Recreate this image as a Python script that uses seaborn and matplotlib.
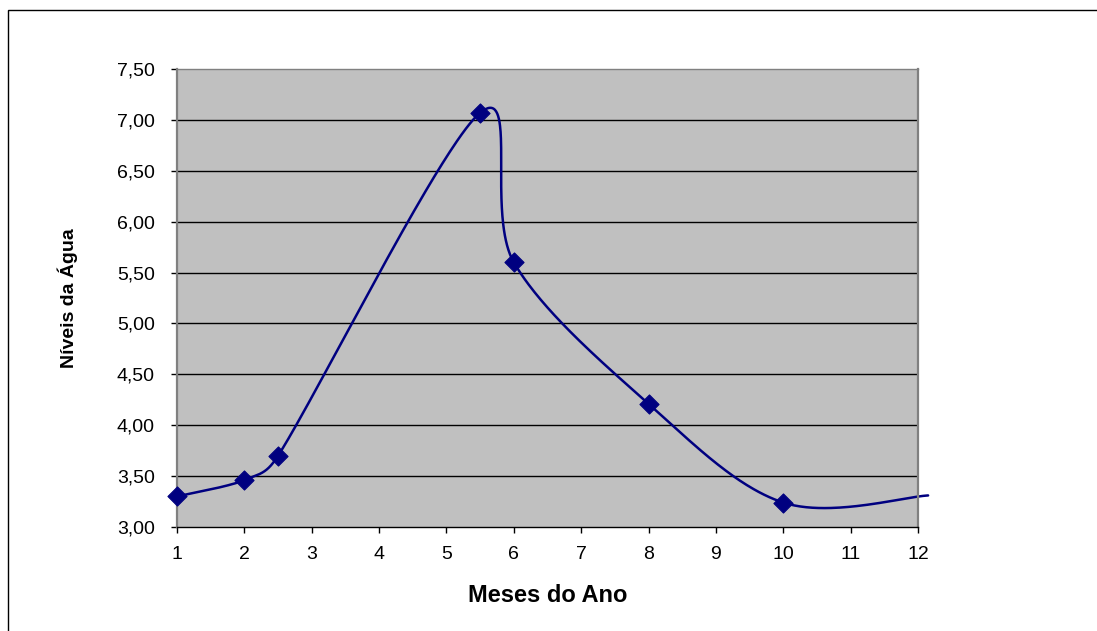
import numpy as np
import pandas as pd
import matplotlib
matplotlib.use("Agg")
import matplotlib.pyplot as plt
from matplotlib.patches import Rectangle
from matplotlib.ticker import FuncFormatter
import seaborn as sns

# Measured water levels by month
meses = [1, 2, 2.5, 5.5, 6, 8, 10]
niveis = [3.30, 3.46, 3.70, 7.07, 5.60, 4.21, 3.24]
# trailing point of the smoothed line (runs just past the last month, no marker)
meses_fim = [12.15]
niveis_fim = [3.31]

x_ticks = list(range(1, 13))
y_ticks = [3.0, 3.5, 4.0, 4.5, 5.0, 5.5, 6.0, 6.5, 7.0, 7.5]

sns.set_theme(style="white")
plt.rcParams["font.family"] = ["Liberation Sans", "DejaVu Sans"]


def smooth_bezier(xs, ys, sx, sy, n=80):
    """Spreadsheet-style smoothed line: cubic Bezier segments whose control
    points follow the neighbouring points (tension 1/6), with the handle
    length capped at half the segment length, measured on screen (sx, sy
    are pixels per data unit)."""
    p = np.column_stack([xs, ys]).astype(float)
    ext = np.vstack([p[0], p, p[-1]])
    scale = np.array([sx, sy])

    def dist(a, b):
        return np.hypot(*((b - a) * scale))

    t = np.linspace(0, 1, n)[:, None]
    out = []
    for i in range(len(p) - 1):
        p0, p1, p2, p3 = ext[i], ext[i + 1], ext[i + 2], ext[i + 3]
        d12 = dist(p1, p2)
        d02 = dist(p0, p2)
        d13 = dist(p1, p3)
        f1 = 1 / 6 if d02 / 6 < d12 / 2 or d02 == 0 else (d12 / 2) / d02
        f2 = 1 / 6 if d13 / 6 < d12 / 2 or d13 == 0 else (d12 / 2) / d13
        c1 = p1 + (p2 - p0) * f1
        c2 = p2 - (p3 - p1) * f2
        seg = ((1 - t) ** 3) * p1 + 3 * ((1 - t) ** 2) * t * c1 + 3 * (1 - t) * t ** 2 * c2 + t ** 3 * p2
        out.append(seg if i == 0 else seg[1:])
    return np.vstack(out)


W, H = 1097, 631
x_lim = (1, 12)
y_lim = (3.0, 7.5)
ax_left, ax_right, ax_top, ax_bottom = 177, 918, 69, 527

fig = plt.figure(figsize=(W / 100, H / 100), dpi=100)
fig.patch.set_facecolor("white")

# outer chart-area frame
fig.patches.append(Rectangle((8 / W, -0.05), 1.2, (H - 10) / H + 0.05,
                             transform=fig.transFigure, fill=False,
                             edgecolor="#000000", linewidth=1.0, zorder=0))

ax = fig.add_axes([ax_left / W, (H - ax_bottom) / H,
                   (ax_right - ax_left) / W, (ax_bottom - ax_top) / H])
ax.set_facecolor("#C0C0C0")

px_x = (ax_right - ax_left) / (x_lim[1] - x_lim[0])
px_y = (ax_bottom - ax_top) / (y_lim[1] - y_lim[0])
curve = smooth_bezier(meses + meses_fim, niveis + niveis_fim, px_x, px_y)
df_curve = pd.DataFrame({"x": curve[:, 0], "y": curve[:, 1]})
df_pts = pd.DataFrame({"Mês": meses, "Nível": niveis})

for v in y_ticks[1:-1]:
    ax.axhline(v, color="#000000", linewidth=1.0, zorder=1)

sns.lineplot(data=df_curve, x="x", y="y", sort=False, estimator=None,
             color="#000080", linewidth=1.8, ax=ax, zorder=3, clip_on=False)
sns.scatterplot(data=df_pts, x="Mês", y="Nível", marker="D", s=95,
                color="#000080", edgecolor="#000080", ax=ax, zorder=6,
                clip_on=False)

ax.set_xlim(*x_lim)
ax.set_ylim(*y_lim)
ax.set_xticks(x_ticks)
ax.set_yticks(y_ticks)
ax.xaxis.set_major_formatter(FuncFormatter(lambda v, _: f"{int(v)}"))
ax.yaxis.set_major_formatter(FuncFormatter(lambda v, _: f"{v:.2f}".replace(".", ",")))

ax.tick_params(axis="both", which="major", direction="out", length=4.0, width=1.0,
               color="#000000", labelsize=14, labelcolor="#000000",
               bottom=True, left=True)
ax.tick_params(axis="y", pad=12)
ax.tick_params(axis="x", pad=10)

for side in ["left", "right", "top"]:
    ax.spines[side].set_color("#808080")
ax.spines["left"].set_linewidth(1.6)
ax.spines["right"].set_linewidth(1.6)
ax.spines["top"].set_linewidth(1.0)
ax.spines["bottom"].set_color("#000000")
ax.spines["bottom"].set_linewidth(1.0)
for s in ax.spines.values():
    s.set_visible(True)
    s.set_zorder(5)

ax.set_xlabel("Meses do Ano", fontsize=17, fontweight="bold", color="#000000", labelpad=15)
ax.set_ylabel("Níveis da Água", fontsize=14, fontweight="bold", color="#000000")
ax.yaxis.set_label_coords(-(ax_left - 78) / (ax_right - ax_left), 0.5)

fig.savefig("out.png", dpi=100, facecolor="white")
